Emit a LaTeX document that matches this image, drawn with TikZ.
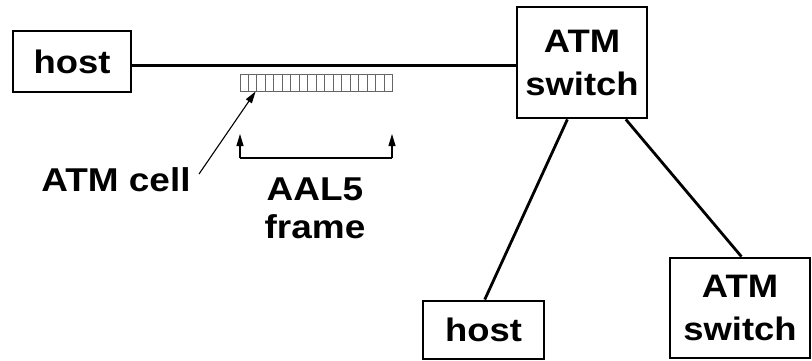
\documentclass[tikz,border=0pt]{standalone}
\usepackage{fontspec}
\setmainfont{Liberation Sans}[FakeStretch=1.12]
\usetikzlibrary{calc,arrows.meta}
\begin{document}
\begin{tikzpicture}[x=1pt,y=-1pt,
  box/.style={draw,line width=2.8pt,inner sep=0pt,font=\bfseries\fontsize{32.5}{43}\selectfont,align=center},
  lbl/.style={inner sep=0pt,font=\bfseries\fontsize{33}{38}\selectfont,align=center},
  link/.style={line width=2.8pt},
  thin/.style={line width=1.1pt,-{Triangle[length=12pt,width=7pt]}}]
\useasboundingbox (0,0) rectangle (812,360);
\node[box,minimum width=118pt,minimum height=61pt] (h1) at (72,61.5) {host};
\node[box,minimum width=130pt,minimum height=111pt] (sw) at (582,62.5) {ATM\\switch};
\node[box,minimum width=121pt,minimum height=58pt] (h2) at (483.5,330) {host};
\node[box,minimum width=140pt,minimum height=100pt] (sw2) at (740,308) {ATM\\switch};
\draw[link] ([yshift=-4pt]h1.east) -- ([yshift=-4pt]h1.east -| sw.west);
\draw[link] ($(sw.south west)!0.39!(sw.south east)$) -- ($(h2.north west)!0.51!(h2.north east)$);
\draw[link] ($(sw.south west)!0.83!(sw.south east)$) -- ($(sw2.north west)!0.51!(sw2.north east)$);
% cell strip
\node[draw=black!60,line width=0.8pt,minimum width=152pt,minimum height=17pt,inner sep=0pt] (strip) at (316,82.5) {};
\foreach \i in {1,...,17}{
  \draw[black!60,line width=0.8pt] ($(strip.north west)!\i/18!(strip.north east)$) -- ($(strip.south west)!\i/18!(strip.south east)$);
}
\node[lbl] (cell) at (116,180) {ATM cell};
\coordinate (ctail) at (199,174);
\draw[thin] (ctail) -- ($(strip.south west)!0.105!(strip.south east)$);
% bracket
\coordinate (bl) at (240,158);
\coordinate (br) at (392,158);
\draw[line width=1.1pt] (bl) -- (br);
\draw[thin] (bl) -- (240,134);
\draw[thin] (br) -- (392,134);
\node[lbl] (aal) at (315,208) {AAL5\\frame};
\end{tikzpicture}
\end{document}
